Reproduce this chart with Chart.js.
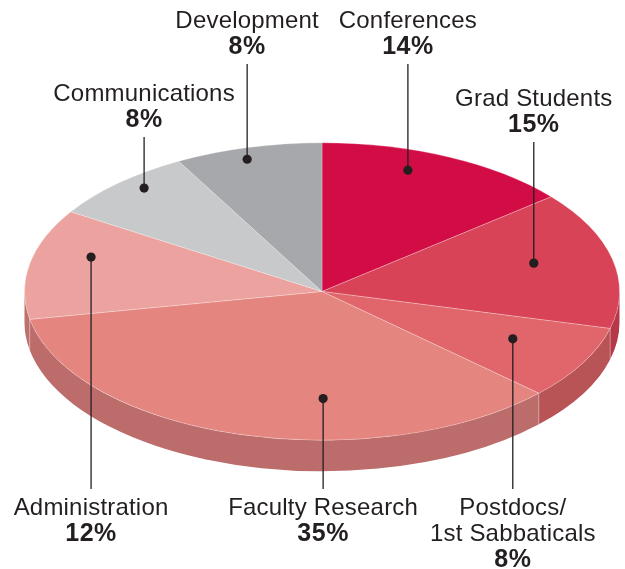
<!DOCTYPE html>
<html>
<head>
<meta charset="utf-8">
<script src="https://cdn.jsdelivr.net/npm/chart.js@4"></script>
<style>
  html, body { margin: 0; padding: 0; background: #fff; overflow: hidden; }
  #wrap { position: relative; width: 625px; height: 569px; overflow: hidden; }
  #pie { position: absolute; left: -40px; top: -60px; }
</style>
</head>
<body>
<div id="wrap"><canvas id="pie" width="700" height="700"></canvas></div>
<script>
// ── data (clockwise from 12 o'clock) ─────────────────────────────────────
const categories = ["Conferences", "Grad Students", "Postdocs/ 1st Sabbaticals", "Faculty Research",
  "Administration", "Communications", "Development"];
const labelLines = [["Conferences"], ["Grad Students"], ["Postdocs/", "1st Sabbaticals"], ["Faculty Research"],
  ["Administration"], ["Communications"], ["Development"]];
const values = [14, 15, 8, 35, 12, 8, 8];
const pctLabels = ["14%", "15%", "8%", "35%", "12%", "8%", "8%"];

// ── styling ──────────────────────────────────────────────────────────────
const topColors  = ["#d20d45", "#d94357", "#e0666b", "#e4857f", "#eca39f", "#c8c9cb", "#a7a8ac"];
const sideColors = ["#a80a37", "#b43a4a", "#b85356", "#bd6c6c", "#bf6f6e", "#a5a6a8", "#8c8d90"];
const TILT = 0.5;    // vertical squash of the disc
const DEPTH = 31;    // thickness of the disc in px
const INK = "#231f20";
const SHIFT_Y = 60;  // canvas sits 60px above the page top (see css)

// dot placement relative to slice middle (deg offset, radius fraction) + label baseline (page px)
const labelLayout = [
  { da: -5.7, f: 0.865, up: true,  y: 28 },
  { da: -2.4, f: 0.737, up: true,  y: 106 },
  { da: -2.4, f: 0.716, up: false, y: 515 },
  { da: -16.5, f: 0.72, up: false, y: 515 },
  { da: 5.8,  f: 0.81,  up: false, y: 515 },
  { da: 2.5,  f: 0.917, up: true,  y: 101 },
  { da: -1.4, f: 0.924, up: true,  y: 28 },
];

const pie3d = {
  id: "pie3d",
  beforeDatasetsDraw(chart) {
    const ctx = chart.ctx;
    const arcs = chart.getDatasetMeta(0).data;
    const { x: cx, y: cy, outerRadius: r } = arcs[0];
    const ry = r * TILT;

    // outer wall of the front half
    ctx.save();
    arcs.forEach((a, i) => {
      const s = Math.max(a.startAngle, 0), e = Math.min(a.endAngle, Math.PI);
      if (e <= s) return;
      ctx.beginPath();
      ctx.ellipse(cx, cy, r, ry, 0, s, e);
      ctx.ellipse(cx, cy + DEPTH, r, ry, 0, e, s, true);
      ctx.closePath();
      ctx.fillStyle = sideColors[i];
      ctx.fill();
    });
    // seams where slices meet on the wall
    ctx.strokeStyle = "rgba(255,255,255,0.3)";
    ctx.lineWidth = 1;
    arcs.forEach((a) => {
      const t = a.startAngle;
      if (t <= 0.02 || t >= Math.PI - 0.02) return;
      const px = cx + r * Math.cos(t), py = cy + ry * Math.sin(t);
      ctx.beginPath(); ctx.moveTo(px, py); ctx.lineTo(px, py + DEPTH); ctx.stroke();
    });
    ctx.restore();

    // squash the top face
    ctx.save();
    ctx.translate(cx, cy); ctx.scale(1, TILT); ctx.translate(-cx, -cy);
  },
  afterDatasetsDraw(chart) { chart.ctx.restore(); },
  afterDraw(chart) {
    const ctx = chart.ctx;
    const arcs = chart.getDatasetMeta(0).data;
    ctx.save();
    ctx.fillStyle = INK; ctx.strokeStyle = INK;
    ctx.textAlign = "center"; ctx.textBaseline = "alphabetic";
    arcs.forEach((a, i) => {
      const L = labelLayout[i];
      const ang = (a.startAngle + a.endAngle) / 2 + L.da * Math.PI / 180;
      const dx = a.x + L.f * a.outerRadius * Math.cos(ang);
      const dy = a.y + L.f * a.outerRadius * TILT * Math.sin(ang);
      const lines = labelLines[i];
      const y0 = L.y + SHIFT_Y;
      const lastBase = y0 + 26 * lines.length;

      // leader line
      ctx.lineWidth = 1.3;
      ctx.beginPath();
      ctx.moveTo(dx, dy);
      ctx.lineTo(dx, L.up ? lastBase + 10 : y0 - 26);
      ctx.stroke();
      ctx.beginPath(); ctx.arc(dx, dy, 4.6, 0, Math.PI * 2); ctx.fill();

      // label text
      ctx.font = "24px 'Liberation Sans', Arial, sans-serif";
      ctx.letterSpacing = "0.2px";
      lines.forEach((t, k) => ctx.fillText(t, dx, y0 + 26 * k));
      ctx.font = "bold 25px 'Liberation Sans', Arial, sans-serif";
      ctx.letterSpacing = "0.5px";
      ctx.fillText(pctLabels[i], dx, lastBase);
    });
    ctx.restore();
  },
};

new Chart(document.getElementById("pie"), {
  type: "pie",
  data: {
    labels: categories,
    datasets: [{ data: values, backgroundColor: topColors, borderColor: "rgba(255,255,255,0.35)",
      borderWidth: 1, hoverOffset: 0 }],
  },
  options: {
    responsive: false, animation: false, events: [], devicePixelRatio: 1,
    layout: { padding: { left: 64, right: 40, top: 53.5, bottom: 50.5 } },
    plugins: { legend: { display: false }, tooltip: { enabled: false } },
  },
  plugins: [pie3d],
});
</script>
</body>
</html>
